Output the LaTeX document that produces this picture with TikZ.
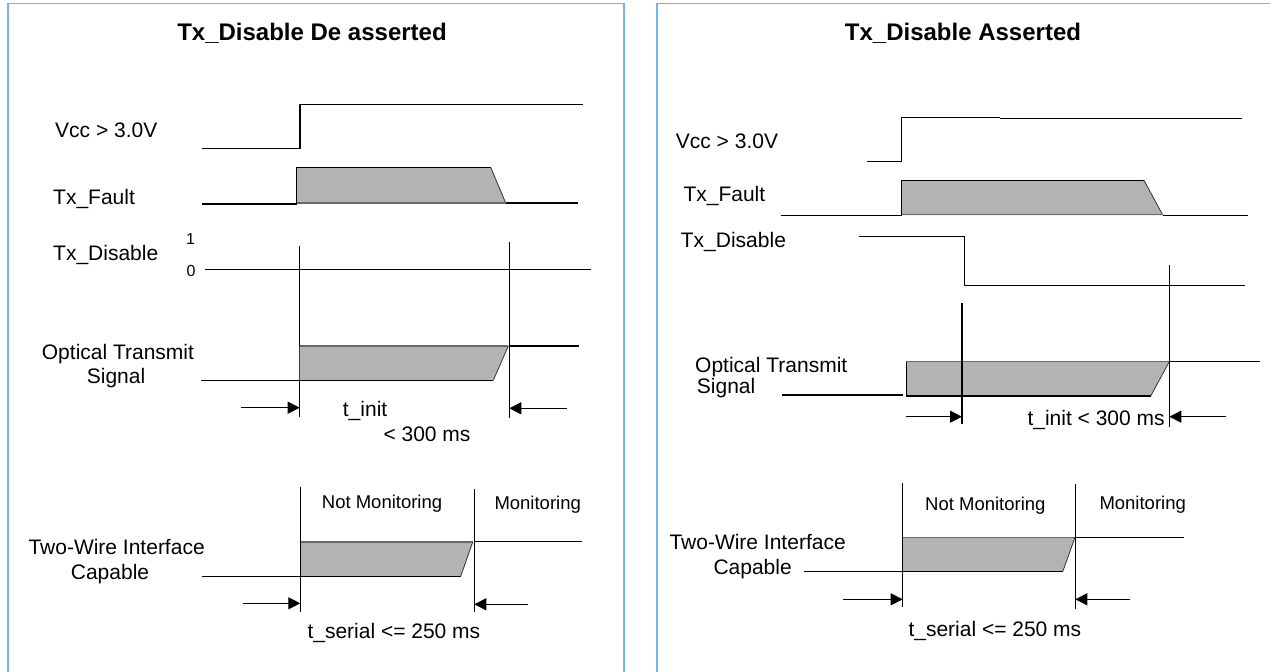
\documentclass[tikz,border=0pt]{standalone}
\usepackage{fontspec}
\setmainfont{Liberation Sans}
\usetikzlibrary{arrows.meta}
\definecolor{panelblue}{RGB}{110,182,240}
\definecolor{wavegray}{RGB}{179,179,179}
\definecolor{edgegray}{RGB}{105,105,105}
\begin{document}
\begin{tikzpicture}[x=1pt,y=-1pt,
  sig/.style={line width=1.2pt,black},
  thinedge/.style={line width=0.8pt,black!80},
  grayedge/.style={line width=1.2pt,edgegray},
  wavefill/.style={fill=wavegray,draw=none},
  panel/.style={draw=panelblue,line width=1.2pt},
  lbl/.style={font=\fontsize{21}{24}\selectfont,inner sep=0pt,anchor=base west},
  sml/.style={font=\fontsize{18.5}{21}\selectfont,inner sep=0pt,anchor=base west},
  lvl/.style={font=\fontsize{16}{18}\selectfont,inner sep=0pt,anchor=base west},
  ttl/.style={font=\fontsize{24}{28}\selectfont\bfseries,inner sep=0pt,anchor=base},
  dimarrow/.style={-{Triangle[length=12pt,width=12pt]},line width=1.2pt}]
\useasboundingbox (0,0) rectangle (1270,672);
% panels
\draw[panel] (8,672) -- (8,3.5) -- (624,3.5) -- (624,672);
\draw[panel] (657,672) -- (657,3.5) -- (1270,3.5);
% titles
\node[ttl] (titleL) at (312,40.7) {Tx\_Disable De asserted};
\node[ttl] (titleR) at (963,40.7) {Tx\_Disable Asserted};

% ================= LEFT PANEL =================
\node[lbl] (vccL) at (55,137.3) {Vcc > 3.0V};
\node[lbl] (faultL) at (53,204) {Tx\_Fault};
\node[lbl] (disL) at (53,260) {Tx\_Disable};
\node[lvl] (oneL) at (186,244) {1};
\node[lvl] (zeroL) at (186.5,276.7) {0};
\node[lbl] (optL1) at (41.7,359.3) {Optical Transmit};
\node[lbl] (optL2) at (86.7,383) {Signal};
\node[lbl] (twL1) at (28.3,554.3) {Two-Wire Interface};
\node[lbl] (twL2) at (70.7,579.3) {Capable};
\node[lbl] (tinitL) at (342.7,416.7) {t\_init};
\node[lbl] (tinitL2) at (383.3,441.7) {< 300 ms};
\node[sml] (nmL) at (321.7,508.3) {Not Monitoring};
\node[sml] (mL) at (494.3,509) {Monitoring};
\node[lbl] (tserL) at (307.3,638.3) {t\_serial <= 250 ms};

% Vcc
\draw[sig] (202,148.3) -- (300,148.3) -- (300,104.3) -- (582.7,104.3);
% Tx_Fault
\fill[wavefill] (296.7,167.3) -- (490.7,167.3) -- (505.7,203) -- (296.7,203) -- cycle;
\draw[sig] (202,204) -- (296.7,204) -- (296.7,167.3) -- (490.7,167.3);
\draw[thinedge] (490.7,167.3) -- (505.7,203);
\draw[grayedge] (296.7,203) -- (505.7,203);
\draw[sig] (505.7,203) -- (577.7,203);
% Tx_Disable
\draw[sig] (205,269.3) -- (590.7,269.3);
% markers
\coordinate (mLa) at (299.7,407.7);
\coordinate (mLb) at (509.3,408.3);
\draw[sig] (299.7,246) -- (299.7,416.7);
\draw[sig] (509.3,242) -- (509.3,417.7);
% Optical
\fill[wavefill] (299.7,346) -- (508.3,346) -- (493.3,380.3) -- (299.7,380.3) -- cycle;
\draw[sig] (201,380.3) -- (493.3,380.3);
\draw[grayedge] (299.7,346) -- (508.3,346);
\draw[thinedge] (493.3,380.3) -- (508.3,346);
\draw[sig] (509.3,346) -- (579.3,346);
\draw[dimarrow] (240.7,407.7) -- (mLa);
\draw[dimarrow] (566.7,408.3) -- (mLb);
% Two-wire
\coordinate (sLa) at (300.3,603.3);
\coordinate (sLb) at (474.3,604.3);
\fill[wavefill] (300.3,542) -- (472.7,542) -- (460.7,576.3) -- (300.3,576.3) -- cycle;
\draw[sig] (202.3,576.3) -- (460.7,576.3);
\draw[grayedge] (300.3,542) -- (472.7,542);
\draw[thinedge] (460.7,576.3) -- (472.7,542);
\draw[sig] (300.3,486.7) -- (300.3,611.7);
\draw[sig] (474.3,489.3) -- (474.3,612.3);
\draw[sig] (474.3,541.5) -- (582,541.5);
\draw[dimarrow] (243.3,603.3) -- (sLa);
\draw[dimarrow] (527.7,604.3) -- (sLb);

% ================= RIGHT PANEL =================
\node[lbl] (vccR) at (675.7,148.3) {Vcc > 3.0V};
\node[lbl] (faultR) at (683.3,201.7) {Tx\_Fault};
\node[lbl] (disR) at (680.7,247.3) {Tx\_Disable};
\node[lbl] (optR1) at (695,372.7) {Optical Transmit};
\node[lbl] (optR2) at (696.7,393.8) {Signal};
\node[lbl] (twR1) at (669.3,549.3) {Two-Wire Interface};
\node[lbl] (twR2) at (713.3,574) {Capable};
\node[lbl] (tinitR) at (1027.3,425.7) {t\_init < 300 ms};
\node[sml] (nmR) at (925,510) {Not Monitoring};
\node[sml] (mR) at (1099.3,509.3) {Monitoring};
\node[lbl] (tserR) at (908.3,636.7) {t\_serial <= 250 ms};

% Vcc
\draw[sig] (867,161.3) -- (901.7,161.3) -- (901.7,117.3) -- (1000,117.3);
\draw[sig] (1000,118.3) -- (1241.7,118.3);
% Tx_Fault
\fill[wavefill] (901.7,180.3) -- (1144,180.3) -- (1162.7,215) -- (901.7,215) -- cycle;
\draw[sig] (781,215.3) -- (901.7,215.3) -- (901.7,180.3) -- (1144,180.3);
\draw[thinedge] (1144,180.3) -- (1162.7,215);
\draw[grayedge] (901.7,214.5) -- (1162.7,214.5);
\draw[sig] (1162.7,215.3) -- (1248.3,215.3);
% Tx_Disable
\draw[sig] (859.3,236.7) -- (964.3,236.7) -- (964.3,285.3) -- (1245,285.3);
% Optical
\coordinate (mRa) at (962,416.7);
\coordinate (mRb) at (1169.3,416.7);
\fill[wavefill] (906.3,361.7) -- (1169.3,361.7) -- (1150.7,396) -- (906.3,396) -- cycle;
\draw[sig] (781.7,395) -- (903.3,395);
\draw[sig] (906.3,361.7) -- (906.3,396) -- (1150.7,396);
\draw[grayedge] (906.3,361.7) -- (1169.3,361.7);
\draw[thinedge] (1150.7,396) -- (1169.3,361.7);
\draw[sig] (1169.3,361.7) -- (1260,361.7);
\draw[sig] (962,302.7) -- (962,424);
\draw[sig] (1169.3,265) -- (1169.3,426.7);
\draw[dimarrow] (906.3,416.7) -- (mRa);
\draw[dimarrow] (1226,416.7) -- (mRb);
% Two-wire
\coordinate (sRa) at (902.7,599.3);
\coordinate (sRb) at (1075.3,599.3);
\fill[wavefill] (902.7,537.3) -- (1075,537.3) -- (1062.7,571.7) -- (902.7,571.7) -- cycle;
\draw[sig] (804,571.7) -- (1062.7,571.7);
\draw[grayedge] (902.7,537.3) -- (1075,537.3);
\draw[thinedge] (1062.7,571.7) -- (1075,537.3);
\draw[sig] (902.7,483.3) -- (902.7,606.7);
\draw[sig] (1075.3,484.3) -- (1075.3,609);
\draw[sig] (1075.3,537.3) -- (1184,537.3);
\draw[dimarrow] (843.3,599.3) -- (sRa);
\draw[dimarrow] (1130,599.3) -- (sRb);
\end{tikzpicture}
\end{document}
